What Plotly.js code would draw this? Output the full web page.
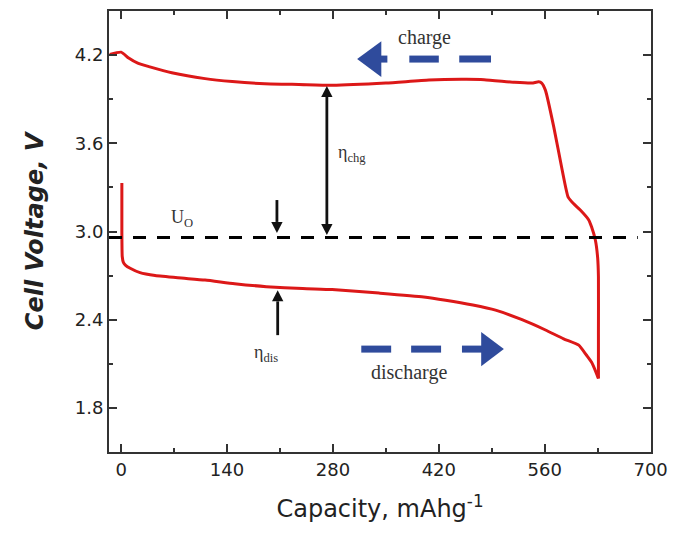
<!DOCTYPE html>
<html>
<head>
<meta charset="utf-8">
<script src="https://cdn.plot.ly/plotly-3.0.1.min.js"></script>
<style>
  html, body { margin: 0; padding: 0; background: #fff; }
  #chart { width: 673px; height: 538px; }
</style>
</head>
<body>
<div id="chart"></div>
<script>
// ---- Data ----
const dischargeCapacity = [1, 1, 1.5, 3, 6, 12, 25, 45, 75, 111, 150, 192, 240, 279, 341, 400, 429, 465, 495, 530, 561, 585, 605, 615, 622, 628, 631];
const dischargeVoltage  = [3.33, 3.0, 2.83, 2.79, 2.77, 2.75, 2.72, 2.70, 2.685, 2.67, 2.645, 2.625, 2.612, 2.605, 2.581, 2.555, 2.533, 2.50, 2.465, 2.40, 2.33, 2.27, 2.227, 2.16, 2.11, 2.04, 2.0];

const chargeCapacity = [631, 631, 631, 630, 627, 622, 618, 607, 598, 591, 583, 572, 561, 556, 552, 543, 520, 480, 450, 407, 350, 279, 235, 190, 147, 111, 67, 38, 22, 10, 0, -15];
const chargeVoltage  = [2.0, 2.3, 2.69, 2.82, 2.94, 3.03, 3.08, 3.146, 3.19, 3.234, 3.42, 3.71, 3.96, 4.01, 4.018, 4.01, 4.015, 4.033, 4.035, 4.03, 4.01, 3.995, 4.0, 4.005, 4.02, 4.04, 4.08, 4.12, 4.145, 4.18, 4.22, 4.205];

const U0 = 2.96;
const u0Span = [-16, 683];

const xTickStep = 140;
const yTickVals = [1.8, 2.4, 3.0, 3.6, 4.2];

// ---- Styles ----
const RED = '#dc1818';
const BLUE = '#2f4b9c';
const AX = '#333333';
const tickFont = { family: 'DejaVu Sans', size: 18, color: '#222' };

const traces = [
  { x: chargeCapacity, y: chargeVoltage, mode: 'lines', line: { color: RED, width: 3, shape: 'spline', smoothing: 0.5 }, hoverinfo: 'skip', showlegend: false },
  { x: dischargeCapacity, y: dischargeVoltage, mode: 'lines', line: { color: RED, width: 3, shape: 'spline', smoothing: 0.5 }, hoverinfo: 'skip', showlegend: false },
  { x: u0Span, y: [U0, U0], mode: 'lines', line: { color: '#000', width: 3, dash: '13px,11px' }, hoverinfo: 'skip', showlegend: false }
];

// horizontal-pointing filled triangle (blue arrows)
function triH(xTip, xBase, yc, h, color) {
  return { type: 'path', xref: 'x', yref: 'y', path: `M ${xTip},${yc} L ${xBase},${yc + h} L ${xBase},${yc - h} Z`, fillcolor: color, line: { width: 0 } };
}
// vertical-pointing filled triangle (black arrows)
function triV(xc, yTip, yBase, w, color) {
  return { type: 'path', xref: 'x', yref: 'y', path: `M ${xc},${yTip} L ${xc - w},${yBase} L ${xc + w},${yBase} Z`, fillcolor: color, line: { width: 0 } };
}
function segH(x0, x1, yc) {
  return { type: 'line', xref: 'x', yref: 'y', x0: x0, x1: x1, y0: yc, y1: yc, line: { color: BLUE, width: 7 } };
}
function segV(xc, y0, y1) {
  return { type: 'line', xref: 'x', yref: 'y', x0: xc, x1: xc, y0: y0, y1: y1, line: { color: '#111', width: 2.8 } };
}
const HW = 7.5, HL = 0.075;
const shapes = [
  // charge arrow (pointing left)
  triH(312, 344, 4.173, 0.122, BLUE), segH(343, 352, 4.173), segH(381, 420, 4.173), segH(447, 489, 4.173),
  // discharge arrow (pointing right)
  segH(317.5, 357, 2.2), segH(383.4, 423, 2.2), segH(450.6, 478, 2.2), triH(506, 476, 2.2, 0.116, BLUE),
  // double arrow (eta chg)
  segV(272, 2.976 + HL, 3.99 - HL), triV(272, 2.976, 2.976 + HL, HW, '#111'), triV(272, 3.99, 3.99 - HL, HW, '#111'),
  // down arrow (U0)
  segV(206, 2.99 + HL, 3.214), triV(206, 2.99, 2.99 + HL, HW, '#111'),
  // up arrow (eta dis)
  segV(207, 2.295, 2.60 - HL), triV(207, 2.60, 2.60 - HL, HW, '#111')
];

const serif = { family: 'Liberation Serif, Times New Roman, serif', size: 20, color: '#333' };
const serifS = { family: serif.family, size: 18, color: '#333' };
const annotations = [
  { x: 400.5, y: 4.32, xref: 'x', yref: 'y', text: 'charge', showarrow: false, font: serif },
  { x: 381, y: 2.044, xref: 'x', yref: 'y', text: 'discharge', showarrow: false, font: serif },
  { x: 80, y: 3.09, xref: 'x', yref: 'y', text: 'U<sub>O</sub>', showarrow: false, font: serifS },
  { x: 305, y: 3.533, xref: 'x', yref: 'y', text: 'η<sub>chg</sub>', showarrow: false, font: serifS },
  { x: 191, y: 2.173, xref: 'x', yref: 'y', text: 'η<sub>dis</sub>', showarrow: false, font: serifS }
];

const layout = {
  width: 673, height: 538,
  margin: { l: 109, r: 22, t: 11, b: 86 },
  paper_bgcolor: '#fff', plot_bgcolor: '#fff',
  showlegend: false,
  xaxis: {
    range: [-16, 700.5], tick0: 0, dtick: xTickStep,
    showgrid: false, zeroline: false,
    showline: true, linecolor: AX, linewidth: 2, mirror: 'ticks',
    ticks: 'inside', ticklen: 8, tickwidth: 2, tickcolor: AX,
    minor: { dtick: xTickStep / 2, ticks: 'inside', ticklen: 4, tickwidth: 2, tickcolor: AX, showgrid: false },
    tickfont: tickFont,
    title: { text: 'Capacity, mAhg<sup>-1</sup>', font: { family: 'DejaVu Sans', size: 24, color: '#222' }, standoff: 22 }
  },
  yaxis: {
    range: [1.5, 4.5], tickvals: yTickVals, ticktext: yTickVals.map(v => v.toFixed(1)),
    showgrid: false, zeroline: false,
    showline: true, linecolor: AX, linewidth: 2, mirror: 'ticks',
    ticks: 'inside', ticklen: 8, tickwidth: 2, tickcolor: AX,
    minor: { tickvals: [1.5, 2.1, 2.7, 3.3, 3.9], ticks: 'inside', ticklen: 4, tickwidth: 2, tickcolor: AX, showgrid: false },
    tickfont: tickFont,
    title: { text: 'Cell Voltage, V', font: { family: 'DejaVu Sans', size: 24, color: '#222', weight: 700, style: 'italic' }, standoff: 24 }
  },
  shapes: shapes,
  annotations: annotations
};

Plotly.newPlot('chart', traces, layout, { staticPlot: true, displayModeBar: false });
</script>
</body>
</html>
